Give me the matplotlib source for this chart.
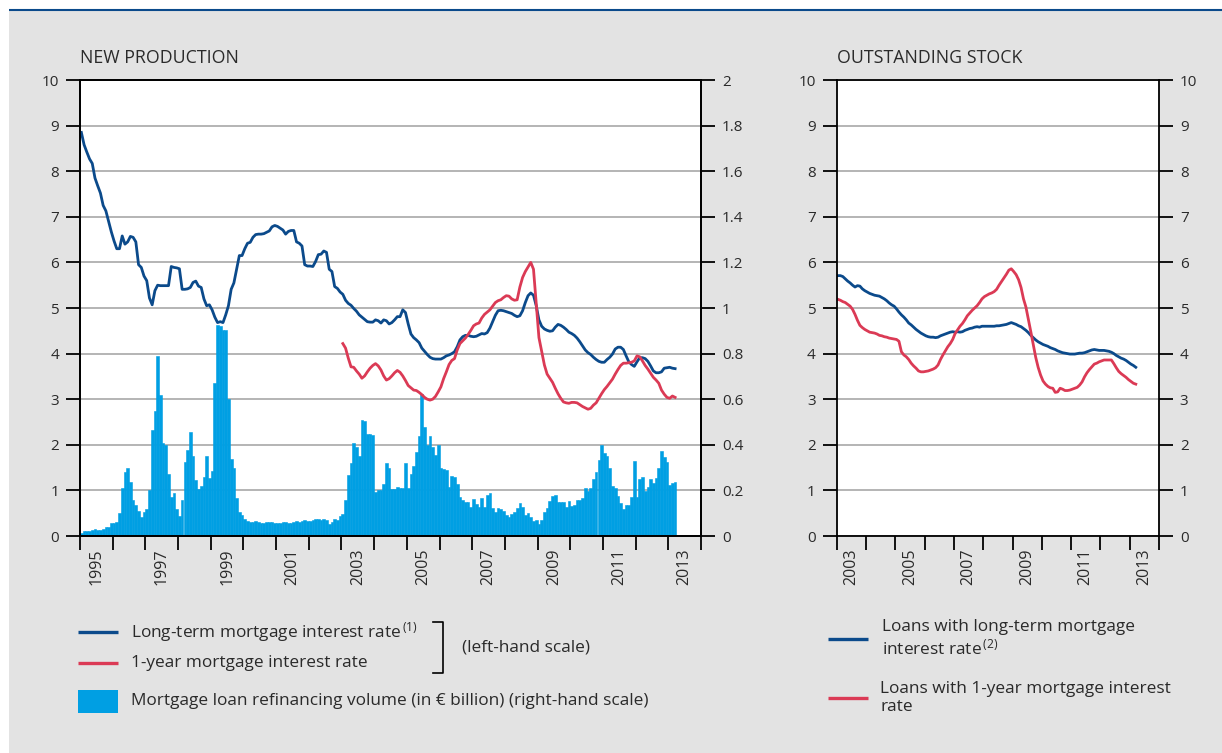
import numpy as np
import matplotlib.pyplot as plt
from matplotlib.patches import Rectangle

plt.rcParams['font.family'] = ['Open Sans', 'DejaVu Sans']
plt.rcParams['mathtext.default'] = 'regular'

# monthly, Jan 1995 - Mar 2013 (right-hand scale, EUR billion)
refi_volume = [
    0.015, 0.022, 0.023, 0.023, 0.026, 0.029, 0.025, 0.026, 0.032, 0.038, 0.041, 0.057,
    0.055, 0.061, 0.099, 0.212, 0.28, 0.298, 0.236, 0.158, 0.134, 0.111, 0.083, 0.107,
    0.117, 0.2, 0.467, 0.55, 0.79, 0.62, 0.41, 0.40, 0.27, 0.17, 0.19, 0.12,
    0.088, 0.156, 0.325, 0.377, 0.455, 0.35, 0.245, 0.204, 0.22, 0.257, 0.35, 0.254,
    0.286, 0.67, 0.924, 0.92, 0.905, 0.905, 0.60, 0.336, 0.298, 0.168, 0.104, 0.092,
    0.075, 0.064, 0.062, 0.063, 0.066, 0.06, 0.057, 0.056, 0.06, 0.06, 0.062, 0.058,
    0.058, 0.057, 0.06, 0.06, 0.058, 0.055, 0.062, 0.066, 0.063, 0.067, 0.068, 0.066,
    0.064, 0.07, 0.074, 0.073, 0.07, 0.075, 0.068, 0.053, 0.062, 0.073, 0.072, 0.088,
    0.095, 0.16, 0.267, 0.321, 0.41, 0.39, 0.35, 0.507, 0.505, 0.447, 0.447, 0.445,
    0.194, 0.2, 0.2, 0.228, 0.32, 0.30, 0.204, 0.206, 0.213, 0.209, 0.209, 0.32,
    0.209, 0.27, 0.307, 0.37, 0.44, 0.625, 0.48, 0.40, 0.44, 0.39, 0.355, 0.40,
    0.298, 0.295, 0.289, 0.213, 0.264, 0.26, 0.228, 0.172, 0.16, 0.15, 0.15, 0.128,
    0.163, 0.14, 0.128, 0.166, 0.128, 0.18, 0.19, 0.125, 0.104, 0.121, 0.12, 0.108,
    0.09, 0.085, 0.096, 0.104, 0.121, 0.143, 0.128, 0.093, 0.099, 0.082, 0.067, 0.07,
    0.051, 0.07, 0.104, 0.123, 0.152, 0.175, 0.182, 0.149, 0.147, 0.147, 0.128, 0.155,
    0.133, 0.137, 0.16, 0.16, 0.168, 0.212, 0.197, 0.212, 0.251, 0.282, 0.333, 0.40,
    0.365, 0.35, 0.30, 0.219, 0.212, 0.175, 0.143, 0.12, 0.137, 0.137, 0.172, 0.328,
    0.172, 0.248, 0.257, 0.197, 0.213, 0.248, 0.234, 0.253, 0.30, 0.374, 0.347, 0.324,
    0.222, 0.231, 0.235,
]

# monthly, Jan 1995 - Mar 2013 (left-hand scale, %)
long_term_rate = [
    8.85, 8.58, 8.42, 8.27, 8.17, 7.85, 7.68, 7.52, 7.25, 7.13, 6.90, 6.67,
    6.47, 6.30, 6.30, 6.58, 6.40, 6.45, 6.57, 6.55, 6.45, 5.95, 5.89, 5.70,
    5.60, 5.22, 5.07, 5.38, 5.50, 5.49, 5.49, 5.49, 5.49, 5.91, 5.89, 5.88,
    5.86, 5.41, 5.41, 5.42, 5.45, 5.56, 5.59, 5.48, 5.45, 5.20, 5.05, 5.07,
    4.96, 4.80, 4.68, 4.70, 4.68, 4.85, 5.05, 5.41, 5.55, 5.85, 6.15, 6.15,
    6.30, 6.42, 6.44, 6.55, 6.61, 6.62, 6.62, 6.63, 6.66, 6.69, 6.78, 6.81,
    6.79, 6.75, 6.71, 6.62, 6.68, 6.70, 6.70, 6.45, 6.42, 6.36, 5.95, 5.92,
    5.92, 5.91, 6.02, 6.17, 6.18, 6.25, 6.22, 5.85, 5.80, 5.47, 5.43, 5.35,
    5.30, 5.17, 5.10, 5.06, 4.99, 4.93, 4.85, 4.80, 4.75, 4.70, 4.69, 4.69,
    4.74, 4.72, 4.67, 4.74, 4.72, 4.65, 4.68, 4.74, 4.81, 4.81, 4.96, 4.90,
    4.65, 4.43, 4.35, 4.30, 4.24, 4.12, 4.05, 3.98, 3.92, 3.89, 3.88, 3.88,
    3.88, 3.91, 3.95, 3.97, 4.00, 4.04, 4.15, 4.30, 4.37, 4.40, 4.40, 4.38,
    4.37, 4.38, 4.41, 4.44, 4.43, 4.46, 4.56, 4.70, 4.84, 4.94, 4.95, 4.94,
    4.92, 4.90, 4.88, 4.84, 4.81, 4.83, 4.94, 5.12, 5.27, 5.33, 5.28, 5.05,
    4.74, 4.60, 4.54, 4.51, 4.49, 4.50, 4.58, 4.64, 4.62, 4.58, 4.53, 4.47,
    4.44, 4.40, 4.34, 4.26, 4.17, 4.08, 4.02, 3.98, 3.92, 3.87, 3.83, 3.81,
    3.81, 3.87, 3.92, 3.99, 4.10, 4.14, 4.14, 4.09, 3.95, 3.82, 3.76, 3.72,
    3.82, 3.91, 3.91, 3.89, 3.83, 3.73, 3.62, 3.58, 3.58, 3.60, 3.68, 3.69,
    3.70, 3.68, 3.67,
]

# monthly, Jan 2003 - Mar 2013
one_year_rate = [
    4.22, 4.12, 3.90, 3.71, 3.70, 3.62, 3.55, 3.46, 3.51, 3.60, 3.68, 3.74,
    3.78, 3.73, 3.64, 3.51, 3.42, 3.45, 3.51, 3.58, 3.63, 3.59, 3.51, 3.41,
    3.30, 3.25, 3.20, 3.19, 3.15, 3.10, 3.04, 3.00, 2.98, 3.00, 3.06, 3.16,
    3.27, 3.45, 3.60, 3.76, 3.85, 3.89, 4.08, 4.22, 4.28, 4.34, 4.42, 4.51,
    4.61, 4.65, 4.67, 4.78, 4.86, 4.91, 4.96, 5.04, 5.12, 5.16, 5.18, 5.23,
    5.27, 5.26, 5.20, 5.17, 5.18, 5.46, 5.67, 5.80, 5.90, 6.00, 5.85, 5.10,
    4.35, 4.05, 3.75, 3.55, 3.46, 3.37, 3.24, 3.12, 3.02, 2.94, 2.92, 2.91,
    2.93, 2.93, 2.92, 2.88, 2.84, 2.81, 2.78, 2.80, 2.87, 2.92, 3.02, 3.12,
    3.21, 3.28, 3.36, 3.44, 3.55, 3.65, 3.74, 3.79, 3.79, 3.80, 3.81, 3.84,
    3.95, 3.93, 3.84, 3.74, 3.66, 3.57, 3.48, 3.42, 3.35, 3.20, 3.11, 3.04,
    3.02, 3.07, 3.04,
]

# outstanding stock, monthly, Jan 2003 - Mar 2013
stock_long_term = [
    5.71, 5.71, 5.69, 5.64, 5.59, 5.55, 5.50, 5.46, 5.49, 5.48, 5.42, 5.38,
    5.35, 5.32, 5.30, 5.28, 5.27, 5.26, 5.23, 5.20, 5.16, 5.11, 5.07, 5.04,
    4.98, 4.91, 4.85, 4.80, 4.74, 4.67, 4.63, 4.58, 4.53, 4.49, 4.45, 4.42,
    4.39, 4.37, 4.36, 4.36, 4.35, 4.36, 4.39, 4.41, 4.43, 4.45, 4.47, 4.48,
    4.47, 4.48, 4.47, 4.48, 4.51, 4.53, 4.55, 4.56, 4.58, 4.59, 4.58, 4.60,
    4.60, 4.60, 4.60, 4.60, 4.60, 4.61, 4.61, 4.62, 4.63, 4.64, 4.66, 4.68,
    4.66, 4.64, 4.61, 4.59, 4.55, 4.51, 4.46, 4.40, 4.35, 4.30, 4.26, 4.23,
    4.20, 4.18, 4.16, 4.13, 4.11, 4.09, 4.06, 4.04, 4.02, 4.01, 4.00, 3.99,
    3.99, 3.99, 4.00, 4.01, 4.01, 4.02, 4.04, 4.06, 4.08, 4.09, 4.08, 4.07,
    4.07, 4.07, 4.06, 4.05, 4.03, 4.00, 3.96, 3.93, 3.90, 3.88, 3.85, 3.81,
    3.77, 3.74, 3.70,
]
stock_one_year = [
    5.19, 5.17, 5.14, 5.12, 5.08, 5.04, 4.97, 4.86, 4.73, 4.62, 4.57, 4.53,
    4.50, 4.47, 4.46, 4.45, 4.43, 4.40, 4.39, 4.37, 4.36, 4.34, 4.33, 4.32,
    4.31, 4.27, 4.04, 3.97, 3.93, 3.87, 3.79, 3.73, 3.68, 3.62, 3.60, 3.60,
    3.61, 3.62, 3.64, 3.66, 3.69, 3.75, 3.87, 3.97, 4.06, 4.15, 4.22, 4.31,
    4.44, 4.52, 4.60, 4.66, 4.74, 4.83, 4.89, 4.95, 5.00, 5.05, 5.12, 5.20,
    5.25, 5.28, 5.31, 5.33, 5.36, 5.41, 5.50, 5.58, 5.66, 5.74, 5.83, 5.86,
    5.80, 5.73, 5.62, 5.45, 5.20, 5.02, 4.75, 4.48, 4.20, 3.92, 3.70, 3.53,
    3.40, 3.33, 3.28, 3.25, 3.24, 3.15, 3.16, 3.24, 3.22, 3.19, 3.19, 3.20,
    3.22, 3.24, 3.26, 3.31, 3.38, 3.49, 3.58, 3.65, 3.71, 3.77, 3.79, 3.82,
    3.84, 3.86, 3.86, 3.86, 3.86, 3.78, 3.69, 3.61, 3.56, 3.52, 3.48, 3.43,
    3.39, 3.35, 3.33,
]

BLUE = '#0b4a8b'
RED = '#db3a55'
CYAN = '#009fe3'
GRID = '#b4b4b4'
BG = '#e3e3e3'
TXT = '#2a2a2a'
W, H = 1222, 753

fig = plt.figure(figsize=(W / 100, H / 100), dpi=100)
fig.patch.set_facecolor('white')

# grey panel + blue rule at the top
bg = fig.add_axes([0, 0, 1, 1], zorder=-10)
bg.set_xlim(0, W)
bg.set_ylim(H, 0)
bg.axis('off')
bg.add_patch(Rectangle((9, 10), W - 9, H - 10, color=BG, lw=0))
bg.plot([9, W], [9.5, 9.5], color=BLUE, lw=1.5, solid_capstyle='butt')


def rect(x0, y0, x1, y1):
    return [x0 / W, 1 - y1 / H, (x1 - x0) / W, (y1 - y0) / H]


def style_common(ax, first, last):
    for s in ax.spines.values():
        s.set_color('black')
        s.set_linewidth(1.3)
    ax.set_xlim(first, last)
    ax.set_xticks(np.arange(first, last + 1), labels=[])
    odd = np.arange(first, last, 2)
    ax.set_xticks(odd + 0.5, minor=True, labels=[str(y) for y in odd])
    ax.tick_params(axis='x', which='major', length=10, width=1.3, direction='out')
    ax.tick_params(axis='x', which='minor', length=0, pad=9, labelsize=11.5,
                   labelrotation=90, labelcolor=TXT)
    ax.tick_params(axis='y', length=10, width=1.3, direction='out', pad=5,
                   labelsize=11, labelcolor=TXT)


# ---------- NEW PRODUCTION ----------
t_all = 1995 + np.arange(len(refi_volume)) / 12
t_03 = 2003 + np.arange(len(one_year_rate)) / 12

ax_bar = fig.add_axes(rect(80, 80, 701, 536), zorder=1)
ax_bar.bar(t_all, refi_volume, width=1 / 12, align='edge', color=CYAN,
           edgecolor=CYAN, lw=0.4)
ax_bar.set_ylim(0, 2)
ax_bar.set_xlim(1995, 2014)
ax_bar.yaxis.tick_right()
ax_bar.set_yticks(np.arange(0, 2.01, 0.2))
ax_bar.set_yticklabels([f'{v:g}' for v in np.arange(0, 2.01, 0.2).round(1)])
ax_bar.grid(axis='y', color=GRID, lw=1.4)
ax_bar.set_axisbelow(True)
ax_bar.tick_params(axis='y', length=10, width=1.3, direction='out', pad=5,
                   labelsize=11, labelcolor=TXT)
ax_bar.tick_params(axis='x', which='both', bottom=False, labelbottom=False)
for s in ax_bar.spines.values():
    s.set_linewidth(1.3)

ax_line = fig.add_axes(rect(80, 80, 701, 536), zorder=2)
ax_line.patch.set_visible(False)
ax_line.plot(t_all + 1 / 24, long_term_rate, color=BLUE, lw=2)
ax_line.plot(t_03 + 1 / 24, one_year_rate, color=RED, lw=2)
ax_line.set_ylim(0, 10)
ax_line.set_yticks(range(11))
style_common(ax_line, 1995, 2014)

fig.text(80 / W, 1 - 63 / H, 'NEW PRODUCTION', fontsize=12.8, color=TXT, va='baseline')

# ---------- OUTSTANDING STOCK ----------
ax_s = fig.add_axes(rect(836.7, 80, 1159, 536))
ax_s.set_facecolor('white')
ax_s.plot(t_03 + 1 / 24, stock_long_term, color=BLUE, lw=2)
ax_s.plot(t_03 + 1 / 24, stock_one_year, color=RED, lw=2)
ax_s.set_ylim(0, 10)
ax_s.set_yticks(range(11))
ax_s.grid(axis='y', color=GRID, lw=1.4)
ax_s.set_axisbelow(True)
style_common(ax_s, 2003, 2014)
ax_s.tick_params(axis='y', left=True, right=True, labelleft=True, labelright=True)

fig.text(837 / W, 1 - 63 / H, 'OUTSTANDING STOCK', fontsize=12.8, color=TXT, va='baseline')

# ---------- legends ----------
lfs = 12.4
bg.plot([78, 118], [632, 632], color=BLUE, lw=2.4, solid_capstyle='butt')
bg.text(131, 632, 'Long-term mortgage interest rate$^{\\,(1)}$', fontsize=lfs,
        color=TXT, va='center')
bg.plot([78, 118], [663, 663], color=RED, lw=2.4, solid_capstyle='butt')
bg.text(131, 663, '1-year mortgage interest rate', fontsize=lfs, color=TXT, va='center')
bg.plot([433, 443, 443, 433], [622, 622, 673, 673], color='black', lw=1.2)
bg.text(462, 648, '(left-hand scale)', fontsize=lfs, color=TXT, va='center')
bg.add_patch(Rectangle((78, 690), 40, 23, color=CYAN, lw=0))
bg.text(131, 701, 'Mortgage loan refinancing volume (in € billion) (right-hand scale)',
        fontsize=lfs, color=TXT, va='center')

bg.plot([828, 868], [639, 639], color=BLUE, lw=2.4, solid_capstyle='butt')
bg.text(882, 639, 'Loans with long-term mortgage\ninterest rate$^{\\,(2)}$', fontsize=lfs,
        color=TXT, va='center', linespacing=1.2)
bg.plot([828, 868], [698, 698], color=RED, lw=2.4, solid_capstyle='butt')
bg.text(880, 698, 'Loans with 1-year mortgage interest\nrate', fontsize=lfs,
        color=TXT, va='center', linespacing=1.2)

fig.savefig('out.png', dpi=100, facecolor=fig.get_facecolor())
